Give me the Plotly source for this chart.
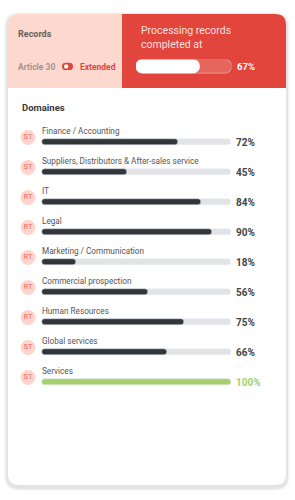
import plotly.graph_objects as go

W, H = 295, 500

# ---------------- data ----------------
domains = ["Finance / Accounting",
           "Suppliers, Distributors & After-sales service",
           "IT", "Legal", "Marketing / Communication",
           "Commercial prospection", "Human Resources",
           "Global services", "Services"]
values = [72, 45, 84, 90, 18, 56, 75, 66, 100]
badges = ["ST", "ST", "RT", "RT", "RT", "RT", "RT", "ST", "ST"]
completion = 67
header_title = "Records"
header_toggle_off = "Article 30"
header_toggle_on = "Extended"
header_text = "Processing records<br>completed at"
section_title = "Domaines"

# ---------------- styles ----------------
RED = "#e1453b"
PINK = "#fdd8cf"
DARK = "#333638"
TRACK = "#e3e3e3"
GREEN = "#a6d06e"
FONT = "Roboto"


def px(x):
    return x / W


def py(y):
    return 1 - y / H


def rrect(x0, y0, x1, y1, r, tl=True, tr=True, br=True, bl=True):
    """Rounded rectangle path in paper units from pixel box."""
    def P(x, y):
        return f"{px(x):.5f},{py(y):.5f}"
    s = f"M {P(x0 + (r if tl else 0), y0)} "
    s += f"L {P(x1 - (r if tr else 0), y0)} "
    if tr:
        s += f"Q {P(x1, y0)} {P(x1, y0 + r)} "
    s += f"L {P(x1, y1 - (r if br else 0))} "
    if br:
        s += f"Q {P(x1, y1)} {P(x1 - r, y1)} "
    s += f"L {P(x0 + (r if bl else 0), y1)} "
    if bl:
        s += f"Q {P(x0, y1)} {P(x0, y1 - r)} "
    s += f"L {P(x0, y0 + (r if tl else 0))} "
    if tl:
        s += f"Q {P(x0, y0)} {P(x0 + r, y0)} "
    return s + "Z"


rows = list(range(len(domains)))
zeros = [0] * len(rows)
fig = go.Figure()

# domain track bars
fig.add_trace(go.Bar(
    y=rows, x=[100] * len(rows), base=zeros, orientation="h", width=0.2,
    marker=dict(color=TRACK, cornerradius=3),
    hoverinfo="skip", showlegend=False, xaxis="x", yaxis="y"))
# domain value bars
colors = [GREEN if v == 100 else DARK for v in values]
fig.add_trace(go.Bar(
    y=rows, x=values, base=zeros, orientation="h", width=0.2,
    marker=dict(color=colors, cornerradius=3),
    hoverinfo="skip", showlegend=False, xaxis="x", yaxis="y"))

# badges
fig.add_trace(go.Scatter(
    x=[-7.4] * len(rows), y=[r - 0.15 for r in rows], mode="markers+text",
    text=badges, textposition="middle center",
    textfont=dict(family=FONT, size=7.5, color="#ee6b60"),
    marker=dict(size=15, color="#fdd5cc", line=dict(width=0)),
    hoverinfo="skip", showlegend=False, xaxis="x", yaxis="y"))

# header progress bar
fig.add_trace(go.Bar(
    y=[0], x=[100], base=[0], orientation="h", width=1,
    marker=dict(color="rgba(255,255,255,0.18)", cornerradius=7),
    hoverinfo="skip", showlegend=False, xaxis="x2", yaxis="y2"))
fig.add_trace(go.Bar(
    y=[0], x=[completion], base=[0], orientation="h", width=1,
    marker=dict(color="white", cornerradius=7),
    hoverinfo="skip", showlegend=False, xaxis="x2", yaxis="y2"))

# ---------------- shapes (card) ----------------
shapes = []
for i, a in enumerate([0.025, 0.035, 0.05]):
    g = 4 - i
    shapes.append(dict(type="path", xref="paper", yref="paper",
                       path=rrect(8 - g, 14 - g + 2, 286 + g, 485 + g + 2, 11 + g),
                       fillcolor=f"rgba(0,0,0,{a})", line=dict(width=0),
                       layer="below"))
shapes.append(dict(type="path", xref="paper", yref="paper",
                   path=rrect(8, 14, 286, 485, 11),
                   fillcolor="white", line=dict(width=0), layer="below"))
shapes.append(dict(type="path", xref="paper", yref="paper",
                   path=rrect(8, 14, 122, 88, 11, tr=False, br=False, bl=False),
                   fillcolor=PINK, line=dict(width=0), layer="below"))
shapes.append(dict(type="path", xref="paper", yref="paper",
                   path=rrect(122, 14, 286, 88, 11, tl=False, br=False, bl=False),
                   fillcolor=RED, line=dict(width=0), layer="below"))
# toggle icon
shapes.append(dict(type="path", xref="paper", yref="paper",
                   path=rrect(62, 62.8, 73, 70, 3.6),
                   fillcolor=RED, line=dict(width=0)))
shapes.append(dict(type="circle", xref="paper", yref="paper",
                   x0=px(64), x1=px(68.4), y0=py(68.6), y1=py(64.2),
                   fillcolor="white", line=dict(width=0)))

# ---------------- annotations ----------------
ann = []
ann.append(dict(text=f"<b>{header_title}</b>", xref="paper", yref="paper",
                x=px(16), y=py(34), xanchor="left", yanchor="middle",
                showarrow=False, font=dict(family=FONT, size=9, color="#6b5f5c")))
ann.append(dict(text=f"<b>{header_toggle_off}</b>", xref="paper", yref="paper",
                x=px(16), y=py(66.5), xanchor="left", yanchor="middle",
                showarrow=False, font=dict(family=FONT, size=8.5, color="#a8928d")))
ann.append(dict(text=f"<b>{header_toggle_on}</b>", xref="paper", yref="paper",
                x=px(78), y=py(66.5), xanchor="left", yanchor="middle",
                showarrow=False, font=dict(family=FONT, size=8.5, color=RED)))
ann.append(dict(text=header_text, xref="paper", yref="paper",
                x=px(139), y=py(38), xanchor="left", yanchor="middle",
                align="left", showarrow=False,
                font=dict(family=FONT, size=10.5, color="rgba(255,255,255,0.85)")))
ann.append(dict(text=f"<b>{completion}%</b>", xref="x2", yref="y2",
                x=100, y=0, xshift=3, xanchor="left", yanchor="middle",
                showarrow=False, font=dict(family=FONT, size=9.5, color="white")))
ann.append(dict(text=f"<b>{section_title}</b>", xref="paper", yref="paper",
                x=px(19.5), y=py(107.5), xanchor="left", yanchor="middle",
                showarrow=False, font=dict(family=FONT, size=9.5, color="#3a3a3a")))
for r, (d, v) in enumerate(zip(domains, values)):
    ann.append(dict(text=d, xref="x", yref="y", x=0, y=r, yshift=11, xshift=-2,
                    xanchor="left", yanchor="middle", showarrow=False,
                    font=dict(family=FONT, size=8.2, color="#555555")))
    ann.append(dict(text=f"<b>{v}%</b>", xref="x", yref="y", x=100, y=r,
                    xshift=3, xanchor="left", yanchor="middle", showarrow=False,
                    font=dict(family=FONT, size=10,
                              color=GREEN if v == 100 else "#444444")))

row0_px, step_px = 142, 30
bar_left, bar_right, axis_left = 42, 231, 18
unit = (bar_right - bar_left) / 100
fig.update_layout(
    width=W, height=H, margin=dict(l=0, r=0, t=0, b=0),
    paper_bgcolor="white", plot_bgcolor="rgba(0,0,0,0)",
    barmode="overlay", bargap=0, showlegend=False,
    shapes=shapes, annotations=ann,
    xaxis=dict(domain=[px(axis_left), px(bar_right)],
               range=[(axis_left - bar_left) / unit, 100], visible=False,
               fixedrange=True),
    yaxis=dict(domain=[0, 1],
               range=[(H - row0_px) / step_px, -row0_px / step_px],
               visible=False, fixedrange=True),
    xaxis2=dict(domain=[px(136), px(231.5)], range=[0, 100], visible=False,
                anchor="y2", fixedrange=True),
    yaxis2=dict(domain=[py(73.7), py(59.5)], range=[-0.5, 0.5], visible=False,
                anchor="x2", fixedrange=True),
)

fig.write_html("out.html", config={"displayModeBar": False})
